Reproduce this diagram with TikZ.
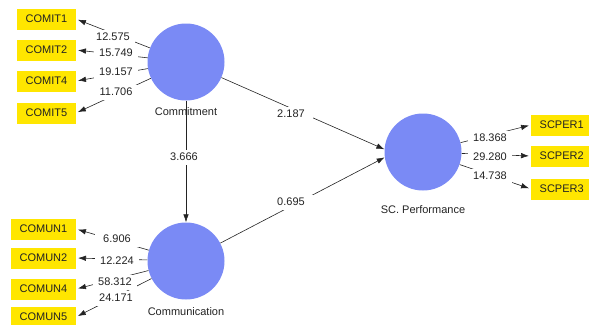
\documentclass[tikz,border=0pt]{standalone}
\usepackage{fontspec}
\setmainfont{Liberation Sans}
\usetikzlibrary{arrows.meta}
\definecolor{lvblue}{RGB}{122,138,245}
\definecolor{mvyellow}{RGB}{255,230,0}
\definecolor{txtgray}{RGB}{35,35,35}

\begin{document}
\begin{tikzpicture}[x=1pt,y=-1pt,
  every node/.style={font=\fontsize{11}{13}\selectfont,text=txtgray},
  latent/.style={circle,fill=lvblue,minimum size=77pt,inner sep=0pt},
  indic/.style={fill=mvyellow,minimum height=21pt,inner xsep=8.5pt},
  val/.style={fill=white,minimum width=44pt,minimum height=15pt,inner sep=1pt},
  structarrow/.style={-{Latex[length=8pt,width=5.5pt]},line width=0.6pt,draw=txtgray},
  loadarrow/.style={-{Latex[length=8pt,width=5.5pt]},line width=0.6pt,draw=txtgray,shorten >=2pt}]
\useasboundingbox (0,0) rectangle (589,324);
% latent variables
\node[latent] (Com) at (186,62)  {};
\node[latent] (Cmn) at (186,261) {};
\node[latent] (SCP) at (423,152) {};
\node (ComL) at (186,112) {Commitment};
\node (CmnL) at (186,312) {Communication};
\node (SCPL) at (423,210) {SC. Performance};
% indicators
\node[indic,anchor=east] (COMIT1) at (76,19)  {COMIT1};
\node[indic,anchor=east] (COMIT2) at (76,50)  {COMIT2};
\node[indic,anchor=east] (COMIT4) at (76,81)  {COMIT4};
\node[indic,anchor=east] (COMIT5) at (76,113) {COMIT5};
\node[indic,anchor=east] (COMUN1) at (76,229) {COMUN1};
\node[indic,anchor=east] (COMUN2) at (76,258) {COMUN2};
\node[indic,anchor=east] (COMUN4) at (76,289) {COMUN4};
\node[indic,anchor=east] (COMUN5) at (76,317) {COMUN5};
\node[indic,anchor=west] (SCPER1) at (531,125) {SCPER1};
\node[indic,anchor=west] (SCPER2) at (531,156) {SCPER2};
\node[indic,anchor=west] (SCPER3) at (531,189) {SCPER3};
% outer loadings
\draw[loadarrow] (Com) -- (COMIT1.east);
\draw[loadarrow] (Com) -- (COMIT2.east);
\draw[loadarrow] (Com) -- (COMIT4.east);
\draw[loadarrow] (Com) -- (COMIT5.east);
\draw[loadarrow] (Cmn) -- (COMUN1.east);
\draw[loadarrow] (Cmn) -- (COMUN2.east);
\draw[loadarrow] (Cmn) -- (COMUN4.east);
\draw[loadarrow] (Cmn) -- (COMUN5.east);
\draw[loadarrow] (SCP) -- (SCPER1.west);
\draw[loadarrow] (SCP) -- (SCPER2.west);
\draw[loadarrow] (SCP) -- (SCPER3.west);
\node[val] (lC1) at (113,37)  {12.575};
\node[val] (lC2) at (116,53)  {15.749};
\node[val] (lC4) at (116,72)  {19.157};
\node[val] (lC5) at (116,92)  {11.706};
\node[val] (lM1) at (117,239) {6.906};
\node[val] (lM2) at (117,261) {12.224};
\node[val] (lM4) at (115,282) {58.312};
\node[val] (lM5) at (116,298) {24.171};
\node[val] (lS1) at (490,138) {18.368};
\node[val] (lS2) at (490,157) {29.280};
\node[val] (lS3) at (490,176) {14.738};
% structural paths
\draw[structarrow] (Com) -- (Cmn);
\draw[structarrow] (Com) -- (SCP.176);
\draw[structarrow] (Cmn) -- (SCP.188);
\node[val] (pCC) at (184,157) {3.666};
\node[val] (pCS) at (291,114) {2.187};
\node[val] (pMS) at (291,202) {0.695};
\end{tikzpicture}
\end{document}
